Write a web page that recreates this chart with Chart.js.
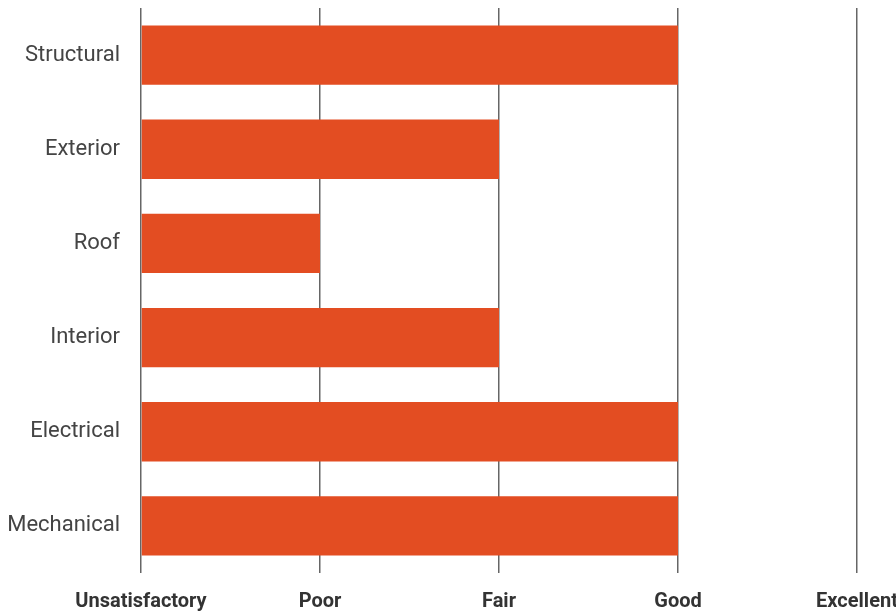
<!DOCTYPE html>
<html>
<head>
<meta charset="utf-8">
<script src="https://cdn.jsdelivr.net/npm/chart.js@4"></script>
<style>
  html, body { margin: 0; padding: 0; background: #fff; overflow: hidden; }
  #wrap { width: 896px; height: 613px; }
</style>
</head>
<body>
<div id="wrap"><canvas id="chart"></canvas></div>
<script>
// house inspection ratings
const categories = ["Structural", "Exterior", "Roof", "Interior", "Electrical", "Mechanical"];
const ratings = [3, 2, 1, 2, 3, 3];
const ratingLabels = ["Unsatisfactory", "Poor", "Fair", "Good", "Excellent"];

const ctx = document.getElementById("chart").getContext("2d");

new Chart(ctx, {
  type: "bar",
  data: {
    labels: categories,
    datasets: [
      {
        data: ratings,
        backgroundColor: "#e34d22",
        borderWidth: 0,
        categoryPercentage: 1,
        barPercentage: 0.63,
      },
    ],
  },
  options: {
    indexAxis: "y",
    responsive: true,
    maintainAspectRatio: false,
    animation: false,
    layout: { padding: { top: 8, right: 39, bottom: 2, left: 0 } },
    plugins: { legend: { display: false }, tooltip: { enabled: false } },
    scales: {
      x: {
        min: 0,
        max: 4,
        border: { display: false },
        grid: { color: "#666", lineWidth: 1.5, drawTicks: false },
        ticks: {
          stepSize: 1,
          padding: 17,
          color: "#333",
          font: { family: "Roboto", size: 20, weight: "bold" },
          callback: (v) => ratingLabels[v],
        },
        // let "Excellent" run off the right edge like the original
        afterFit: (scale) => {
          scale.paddingRight = 0;
          scale.paddingLeft = 0;
          scale.height = 38;
        },
      },
      y: {
        border: { display: false },
        grid: { display: false, drawTicks: false },
        ticks: {
          padding: 21,
          color: "#444",
          font: { family: "Roboto", size: 22 },
        },
        afterFit: (scale) => {
          scale.width = 141;
          scale.paddingTop = 0;
          scale.paddingBottom = 0;
        },
      },
    },
  },
});
</script>
</body>
</html>
